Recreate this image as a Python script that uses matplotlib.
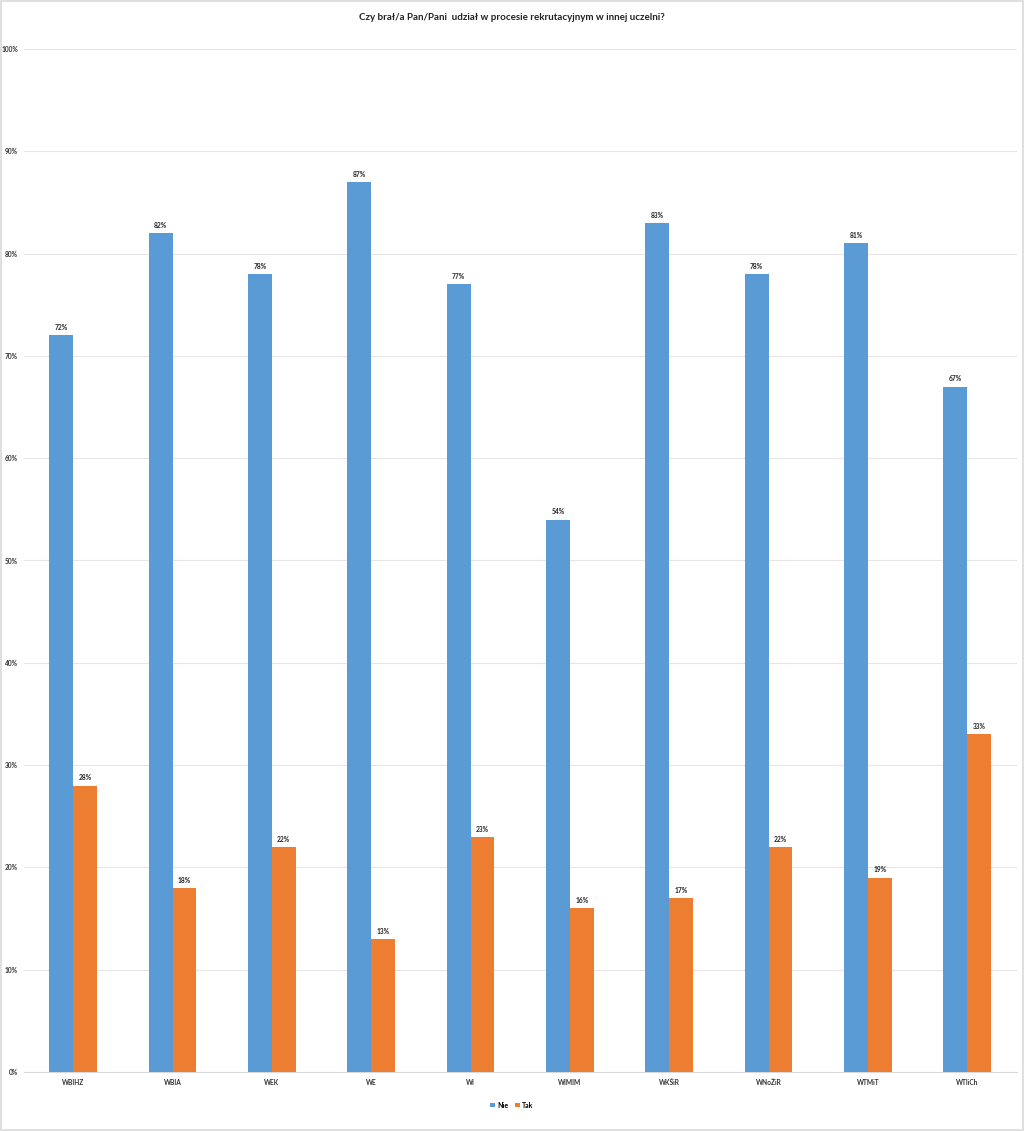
import matplotlib
matplotlib.use("Agg")
import matplotlib.pyplot as plt
import numpy as np
from matplotlib.patches import Rectangle

categories = ["WBIHZ", "WBIA", "WEK", "WE", "WI", "WIMIM", "WKŚiR", "WNoŻiR", "WTMiT", "WTIiCh"]
nie = [72, 82, 78, 87, 77, 54, 83, 78, 81, 67]
tak = [28, 18, 22, 13, 23, 16, 17, 22, 19, 33]
yticks = [0, 10, 20, 30, 40, 50, 60, 70, 80, 90, 100]

plt.rcParams['font.family'] = ['Lato', 'DejaVu Sans']

fig = plt.figure(figsize=(10.24, 11.31), dpi=100)
ax = fig.add_axes([23.5/1024, 1 - 1072/1131, (1017-23.5)/1024, (1072-49)/1131])

blue = "#5B9BD5"
orange = "#ED7D31"
x = np.arange(len(categories))
w = 0.24
b1 = ax.bar(x - w/2, nie, w, color=blue, label="Nie", zorder=3)
b2 = ax.bar(x + w/2, tak, w, color=orange, label="Tak", zorder=3)

for bars, vals in ((b1, nie), (b2, tak)):
    for r, v in zip(bars, vals):
        ax.annotate(f"{v}%", (r.get_x() + r.get_width()/2, v), xytext=(0, 3),
                    textcoords="offset points", ha="center", va="bottom",
                    fontsize=4.8, fontweight="bold", color="#222222")

ax.set_xlim(-0.5, len(categories) - 0.5)
ax.set_ylim(0, 100)
ax.set_yticks(yticks)
ax.set_yticklabels([f"{t}%" for t in yticks], fontsize=4.8, fontweight="bold", color="#333333")
ax.set_xticks(x)
ax.set_xticklabels(categories, fontsize=4.8, fontweight="bold", color="#333333")
ax.tick_params(axis="both", length=0)
ax.tick_params(axis="y", pad=4)
ax.tick_params(axis="x", pad=5)
ax.grid(axis="y", color="#E6E6E6", linewidth=0.8, zorder=0)
for s in ("top", "right", "left"):
    ax.spines[s].set_visible(False)
ax.spines["bottom"].set_color("#D9D9D9")
ax.spines["bottom"].set_linewidth(0.8)

fig.text(0.5, 1 - 18/1131, "Czy brał/a Pan/Pani  udział w procesie rekrutacyjnym w innej uczelni?",
         ha="center", va="center", fontsize=7, fontweight="bold", color="#222222")

leg = fig.legend(handles=[b1, b2], labels=["Nie", "Tak"], loc="center",
                 bbox_to_anchor=(0.5, 1 - 1105/1131), ncol=2, frameon=False,
                 prop={"size": 5, "weight": "bold"}, handlelength=0.6, handleheight=0.6,
                 columnspacing=1.0, handletextpad=0.4)

fig.patches.append(Rectangle((0.001, 0.001), 0.998, 0.998, transform=fig.transFigure,
                             fill=False, edgecolor="#D9D9D9", linewidth=1.2))

fig.savefig("out.png", dpi=100, facecolor="white")
